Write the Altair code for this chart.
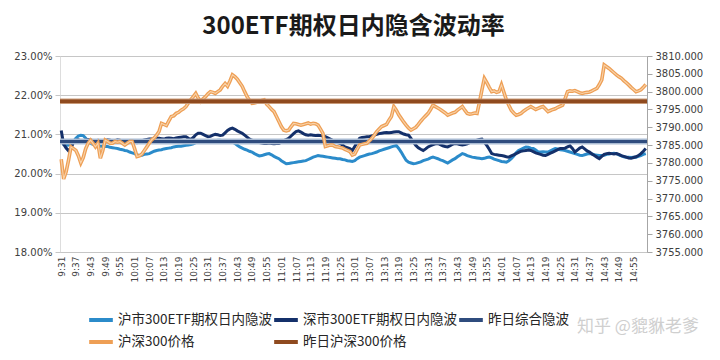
import altair as alt
import pandas as pd

title_text = "300ETF期权日内隐含波动率"
watermark = "知乎 @貔貅老爹"
series_names = ["沪市300ETF期权日内隐波", "深市300ETF期权日内隐波", "昨日综合隐波",
                "沪深300价格", "昨日沪深300价格"]
series_colors = ["#2b8bca", "#14306a", "#2f4c7e", "#ee9f55", "#8f4a1f"]

# trading minutes: 9:31-11:30 and 13:01-15:00
times = []
for h, m0, n in [(9, 31, 120), (13, 1, 120)]:
    for k in range(n):
        tot = h * 60 + m0 + k
        times.append(f"{tot // 60}:{tot % 60:02d}")
tick_labels = times[::6]

sh_iv = [
    20.88, 20.74, 20.72, 20.73, 20.77, 20.82, 20.90, 20.96, 20.98, 20.97, 20.90, 20.82, 20.77, 20.75, 20.73, 20.71, 20.70, 20.70, 20.69, 20.69,
    20.67, 20.66, 20.65, 20.64, 20.62, 20.61, 20.59, 20.58, 20.55, 20.53, 20.51, 20.48, 20.46, 20.47, 20.49, 20.50, 20.51, 20.54, 20.57, 20.59,
    20.60, 20.61, 20.63, 20.64, 20.65, 20.66, 20.68, 20.69, 20.70, 20.70, 20.71, 20.72, 20.73, 20.74, 20.76, 20.79, 20.81, 20.81, 20.80, 20.81,
    20.82, 20.83, 20.84, 20.84, 20.85, 20.85, 20.84, 20.83, 20.82, 20.82, 20.81, 20.77, 20.72, 20.68, 20.65, 20.62, 20.60, 20.57, 20.55, 20.51,
    20.48, 20.45, 20.46, 20.48, 20.50, 20.51, 20.48, 20.44, 20.41, 20.38, 20.33, 20.29, 20.25, 20.26, 20.27, 20.28, 20.29, 20.30, 20.31, 20.32,
    20.33, 20.36, 20.39, 20.42, 20.44, 20.46, 20.45, 20.44, 20.43, 20.42, 20.41, 20.40, 20.39, 20.38, 20.38, 20.36, 20.35, 20.33, 20.32, 20.31,
    20.33, 20.38, 20.42, 20.44, 20.46, 20.48, 20.50, 20.51, 20.53, 20.55, 20.58, 20.60, 20.62, 20.64, 20.66, 20.68, 20.70, 20.72, 20.64, 20.55,
    20.44, 20.34, 20.29, 20.27, 20.25, 20.26, 20.28, 20.30, 20.33, 20.35, 20.37, 20.40, 20.42, 20.40, 20.38, 20.35, 20.33, 20.30, 20.27, 20.31,
    20.35, 20.38, 20.43, 20.47, 20.51, 20.49, 20.46, 20.44, 20.42, 20.41, 20.40, 20.39, 20.38, 20.39, 20.41, 20.42, 20.40, 20.37, 20.35, 20.33,
    20.31, 20.30, 20.29, 20.33, 20.38, 20.45, 20.53, 20.59, 20.62, 20.65, 20.68, 20.67, 20.65, 20.64, 20.60, 20.55, 20.55, 20.56, 20.55, 20.55,
    20.58, 20.61, 20.64, 20.63, 20.61, 20.60, 20.59, 20.57, 20.55, 20.53, 20.51, 20.49, 20.47, 20.46, 20.48, 20.50, 20.51, 20.50, 20.48, 20.47,
    20.46, 20.46, 20.47, 20.49, 20.50, 20.51, 20.52, 20.51, 20.48, 20.45, 20.43, 20.42, 20.42, 20.41, 20.42, 20.42, 20.44, 20.46, 20.49, 20.51,
]

sz_iv = [
    21.10, 20.75, 20.65, 20.58, 20.64, 20.80, 20.84, 20.86, 20.84, 20.83, 20.85, 20.87, 20.86, 20.84, 20.83, 20.85, 20.84, 20.82, 20.84, 20.86,
    20.85, 20.83, 20.84, 20.86, 20.85, 20.83, 20.82, 20.84, 20.83, 20.82, 20.80, 20.79, 20.81, 20.84, 20.86, 20.87, 20.88, 20.88, 20.89, 20.90,
    20.90, 20.89, 20.88, 20.90, 20.91, 20.90, 20.89, 20.91, 20.92, 20.93, 20.94, 20.94, 20.90, 20.87, 20.92, 20.99, 21.03, 21.03, 21.00, 20.97,
    20.94, 20.95, 20.98, 21.00, 20.99, 20.97, 20.98, 21.04, 21.10, 21.14, 21.16, 21.13, 21.09, 21.06, 21.03, 20.98, 20.93, 20.88, 20.85, 20.83,
    20.81, 20.79, 20.78, 20.77, 20.77, 20.78, 20.77, 20.76, 20.77, 20.77, 20.80, 20.84, 20.87, 20.90, 20.96, 21.02, 21.07, 21.09, 21.06, 21.02,
    20.99, 20.98, 20.99, 20.98, 20.97, 20.98, 20.97, 20.96, 20.94, 20.91, 20.88, 20.85, 20.82, 20.79, 20.77, 20.73, 20.68, 20.66, 20.64, 20.59,
    20.69, 20.80, 20.90, 20.92, 20.93, 20.94, 20.94, 20.96, 20.98, 21.00, 21.02, 21.03, 21.04, 21.05, 21.04, 21.05, 21.06, 21.07, 21.07, 21.04,
    21.01, 20.99, 20.98, 20.90, 20.80, 20.72, 20.66, 20.62, 20.59, 20.63, 20.68, 20.71, 20.74, 20.76, 20.77, 20.74, 20.71, 20.69, 20.68, 20.71,
    20.75, 20.77, 20.76, 20.74, 20.73, 20.74, 20.76, 20.79, 20.81, 20.83, 20.85, 20.87, 20.88, 20.80, 20.72, 20.62, 20.51, 20.49, 20.48, 20.47,
    20.46, 20.45, 20.43, 20.42, 20.45, 20.48, 20.51, 20.54, 20.57, 20.58, 20.59, 20.60, 20.59, 20.56, 20.53, 20.51, 20.49, 20.47, 20.46, 20.49,
    20.52, 20.55, 20.58, 20.61, 20.64, 20.64, 20.65, 20.68, 20.71, 20.64, 20.55, 20.60, 20.65, 20.68, 20.63, 20.58, 20.55, 20.50, 20.46, 20.42,
    20.38, 20.44, 20.49, 20.51, 20.52, 20.51, 20.50, 20.51, 20.49, 20.46, 20.44, 20.42, 20.40, 20.39, 20.41, 20.43, 20.46, 20.51, 20.57, 20.64,
]

price = [
    3781.0, 3775.5, 3777.5, 3780.8, 3784.5, 3784.0, 3783.5, 3782.0, 3780.0, 3781.5, 3784.0, 3785.5, 3786.4, 3785.5, 3784.5, 3785.5, 3781.3, 3783.5, 3786.4, 3786.0,
    3785.5, 3785.5, 3786.0, 3785.8, 3786.0, 3785.5, 3785.0, 3785.5, 3786.0, 3786.0, 3784.0, 3781.8, 3782.0, 3782.5, 3783.5, 3784.5, 3785.5, 3786.5, 3787.0, 3787.8,
    3788.8, 3791.1, 3790.8, 3790.5, 3791.8, 3793.0, 3793.2, 3793.9, 3794.2, 3794.8, 3795.2, 3795.8, 3796.8, 3797.8, 3798.6, 3799.5, 3798.2, 3797.2, 3798.0, 3798.6,
    3799.4, 3800.0, 3799.8, 3799.5, 3800.0, 3800.5, 3801.5, 3802.3, 3801.5, 3803.0, 3804.7, 3804.2, 3803.5, 3802.5, 3801.5, 3800.0, 3798.6, 3797.5, 3796.7, 3796.8,
    3797.0, 3797.2, 3797.5, 3797.7, 3796.5, 3795.8, 3795.0, 3794.4, 3793.0, 3791.6, 3790.2, 3789.2, 3789.0, 3789.2, 3790.2, 3791.1, 3791.0, 3790.8, 3790.6, 3790.8,
    3791.0, 3791.2, 3790.9, 3791.1, 3791.0, 3790.6, 3789.5, 3788.3, 3784.6, 3784.8, 3785.0, 3785.0, 3784.6, 3784.5, 3784.3, 3784.2, 3783.8, 3783.5, 3783.2, 3782.2,
    3782.5, 3783.8, 3785.0, 3785.2, 3785.4, 3785.5, 3786.2, 3786.9, 3787.8, 3788.8, 3789.5, 3790.2, 3790.5, 3790.8, 3792.0, 3793.0, 3795.8, 3794.8, 3793.5, 3792.5,
    3791.5, 3790.6, 3789.8, 3789.2, 3789.6, 3790.0, 3790.8, 3791.7, 3792.5, 3793.2, 3793.9, 3795.0, 3796.2, 3795.8, 3795.4, 3795.0, 3794.5, 3794.0, 3793.4, 3793.7,
    3794.0, 3794.2, 3794.8, 3795.3, 3795.8, 3794.8, 3793.9, 3793.7, 3793.8, 3794.0, 3793.9, 3797.0, 3800.5, 3803.7, 3802.5, 3801.2, 3800.0, 3800.2, 3799.8, 3800.0,
    3801.9, 3799.8, 3797.7, 3796.2, 3794.8, 3794.0, 3793.4, 3793.6, 3793.9, 3794.5, 3795.0, 3795.4, 3795.8, 3795.4, 3795.0, 3795.3, 3795.6, 3795.8, 3795.1, 3794.4,
    3794.7, 3795.0, 3795.2, 3795.6, 3795.9, 3796.2, 3798.0, 3800.0, 3800.2, 3800.1, 3800.3, 3800.0, 3799.7, 3799.5, 3799.7, 3799.8, 3799.9, 3800.2, 3800.6, 3800.9,
    3802.0, 3803.3, 3807.5, 3807.0, 3806.5, 3805.9, 3805.3, 3804.7, 3804.2, 3803.8, 3803.1, 3802.5, 3801.9, 3801.2, 3800.6, 3800.0, 3800.2, 3800.5, 3801.2, 3802.0,
]

yesterday_iv = 20.82
yesterday_price = 3797.3

left_ticks = [18, 19, 20, 21, 22, 23]
right_ticks = [3755, 3760, 3765, 3770, 3775, 3780, 3785, 3790, 3795, 3800, 3805, 3810]

iv_df = pd.DataFrame({
    "t": times * 2,
    "v": sh_iv + sz_iv,
    "series": [series_names[0]] * len(times) + [series_names[1]] * len(times),
})
price_df = pd.DataFrame({"t": times, "v": price, "series": series_names[3]})
iv_rule_df = pd.DataFrame({"v": [yesterday_iv], "series": [series_names[2]]})
price_rule_df = pd.DataFrame({"v": [yesterday_price], "series": [series_names[4]]})

FONT = "DejaVu Sans"
CJK = "Noto Sans CJK SC"

x_enc = alt.X(
    "t:O", sort=times,
    scale=alt.Scale(type="point", domain=times, padding=0.5),
    axis=alt.Axis(values=tick_labels, labelAngle=270, labelFont=FONT, labelFontSize=9,
                  labelColor="#404040", labelPadding=4, ticks=False, domain=True,
                  domainColor="#c6c6c6", labelOverlap=False, grid=False),
    title=None,
)

left_scale = alt.Scale(domain=[18, 23], nice=False, zero=False)
right_scale = alt.Scale(domain=[3755, 3810], nice=False, zero=False)

left_axis = alt.Axis(values=left_ticks, labelExpr="format(datum.value, '.2f') + '%'",
                     grid=True, gridColor="#c6c6c6", gridWidth=1, domain=False,
                     ticks=True, tickColor="#c6c6c6", tickSize=5, labelFont=FONT,
                     labelFontSize=10, labelColor="#404040", labelPadding=3)
right_axis = alt.Axis(orient="right", values=right_ticks, format=".3f", grid=False,
                      domain=True, domainColor="#a6a6a6", ticks=True, tickColor="#a6a6a6",
                      tickSize=5, labelFont=FONT, labelFontSize=10, labelColor="#404040",
                      labelPadding=3)

color_enc = alt.Color(
    "series:N",
    scale=alt.Scale(domain=series_names, range=series_colors),
    legend=alt.Legend(orient="none", legendX=27, legendY=250, columns=3,
                      direction="horizontal",
                      symbolType="stroke", symbolSize=560, symbolStrokeWidth=4,
                      labelFont=CJK, labelFontSize=13.5, labelColor="#262626",
                      labelOffset=3, columnPadding=-10, rowPadding=-14, labelLimit=300),
    title=None,
)

iv_lines = alt.Chart(iv_df).mark_line(strokeWidth=3).encode(
    x=x_enc, y=alt.Y("v:Q", scale=left_scale, axis=left_axis, title=None),
    color=color_enc, detail="series:N")
iv_rule_bg = alt.Chart(iv_rule_df).mark_rule(color="#a9bbd3", strokeWidth=6).encode(
    y=alt.Y("v:Q", scale=left_scale, axis=left_axis, title=None))
iv_rule = alt.Chart(iv_rule_df).mark_rule(strokeWidth=3).encode(
    y=alt.Y("v:Q", scale=left_scale, axis=left_axis, title=None), color=color_enc)

left = alt.layer(iv_lines, iv_rule_bg, iv_rule)

price_line = alt.Chart(price_df).mark_line(strokeWidth=3.6).encode(
    x=x_enc, y=alt.Y("v:Q", scale=right_scale, axis=right_axis, title=None),
    color=color_enc)
price_inner = alt.Chart(price_df).mark_line(strokeWidth=1.1, color="#f8d3ab").encode(
    x=x_enc, y=alt.Y("v:Q", scale=right_scale, axis=right_axis, title=None))
price_rule_bg = alt.Chart(price_rule_df).mark_rule(color="#c99a78", strokeWidth=5.5).encode(
    y=alt.Y("v:Q", scale=right_scale, axis=right_axis, title=None))
price_rule = alt.Chart(price_rule_df).mark_rule(strokeWidth=3.5).encode(
    y=alt.Y("v:Q", scale=right_scale, axis=right_axis, title=None), color=color_enc)

right = alt.layer(price_line, price_inner, price_rule_bg, price_rule)

wm = alt.Chart(pd.DataFrame({"w": [watermark]})).mark_text(
    font=CJK, fontSize=17, color="#cfcfcf", align="left", baseline="middle"
).encode(text="w:N", x=alt.value(517), y=alt.value(271))

chart = alt.layer(left, right, wm).resolve_scale(y="independent").properties(
    width=587, height=196,
    padding={"left": 52, "top": 48, "right": 65, "bottom": 100},
    autosize=alt.AutoSizeParams(type="none"),
    title=alt.TitleParams(title_text, font=CJK, fontSize=24, fontWeight="bold",
                          color="#1a1a1a", anchor="middle", offset=12),
).configure_view(stroke="transparent").configure(background="white")

chart.save("out.html", embed_options={"renderer": "svg", "actions": False})
